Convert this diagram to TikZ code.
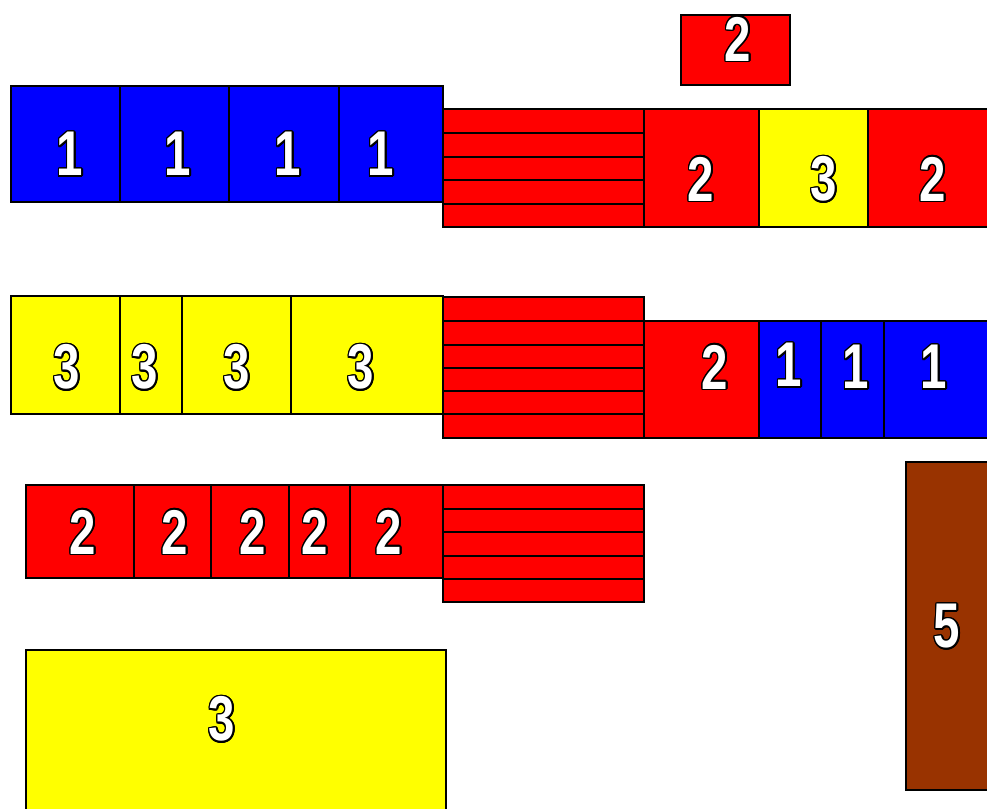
\documentclass[tikz,border=0pt]{standalone}
\usepackage{fontspec}
\usepackage{contour}
\newfontfamily\numfont[FakeStretch=0.75]{Liberation Sans}
\contourlength{0.9pt}
\definecolor{brick}{HTML}{993300}
\definecolor{cred}{HTML}{FF0000}
\definecolor{cblue}{HTML}{0000FF}
\definecolor{cyellow}{HTML}{FFFF00}

\begin{document}
\begin{tikzpicture}[x=0.02cm,y=-0.02cm,line width=0.8pt,
  c/.style={draw=black,fill=#1},
  n/.style={text=white,inner sep=0pt,font=\numfont\bfseries\fontsize{36}{36}\selectfont}]
  \clip (0,0) rectangle (987,808);
  % first row
  \foreach \a/\b in {11/120,120/229,229/339,339/443} \draw[c=cblue] (\a,86) rectangle (\b,202);
  \draw[c=cred] (443,109) rectangle (644,227);
  \foreach \y in {133,157,180,204} \draw (443,\y) -- (644,\y);
  \draw[c=cred] (644,109) rectangle (759,227);
  \draw[c=cyellow] (759,109) rectangle (868,227);
  \draw[c=cred] (868,109) rectangle (992,227);
  \draw[c=cred] (681,15) rectangle (790,85);
  \node[n] (a1) at (70,155) {\contour{black}{1}};
  \node[n] (a2) at (178,155) {\contour{black}{1}};
  \node[n] (a3) at (288,155) {\contour{black}{1}};
  \node[n] (a4) at (381,155) {\contour{black}{1}};
  \node[n] (a5) at (701,180) {\contour{black}{2}};
  \node[n] (a6) at (824,180) {\contour{black}{3}};
  \node[n] (a7) at (933,180) {\contour{black}{2}};
  \node[n] (top) at (738,40) {\contour{black}{2}};
  % second row
  \foreach \a/\b in {11/120,120/182,182/291,291/443} \draw[c=cyellow] (\a,296) rectangle (\b,414);
  \draw[c=cred] (443,297) rectangle (644,438);
  \foreach \y in {321,345,368,391,414} \draw (443,\y) -- (644,\y);
  \draw[c=cred] (644,321) rectangle (759,438);
  \foreach \a/\b in {759/821,821/884,884/992} \draw[c=cblue] (\a,321) rectangle (\b,438);
  \node[n] (b1) at (67,368) {\contour{black}{3}};
  \node[n] (b2) at (145,368) {\contour{black}{3}};
  \node[n] (b3) at (237,368) {\contour{black}{3}};
  \node[n] (b4) at (361,368) {\contour{black}{3}};
  \node[n] (b5) at (715,368) {\contour{black}{2}};
  \node[n] (b6) at (789,366) {\contour{black}{1}};
  \node[n] (b7) at (856,368) {\contour{black}{1}};
  \node[n] (b8) at (934,368) {\contour{black}{1}};
  % third row
  \foreach \a/\b in {26/134,134/211,211/289,289/350,350/443} \draw[c=cred] (\a,485) rectangle (\b,578);
  \draw[c=cred] (443,485) rectangle (644,602);
  \foreach \y in {509,532,556,579} \draw (443,\y) -- (644,\y);
  \node[n] (d1) at (83,533) {\contour{black}{2}};
  \node[n] (d2) at (175,533) {\contour{black}{2}};
  \node[n] (d3) at (253,533) {\contour{black}{2}};
  \node[n] (d4) at (315,533) {\contour{black}{2}};
  \node[n] (d5) at (389,533) {\contour{black}{2}};
  % bottom blocks
  \draw[c=cyellow] (26,650) rectangle (446,815);
  \node[n] (big) at (222,720) {\contour{black}{3}};
  \draw[c=brick] (906,462) rectangle (992,790);
  \node[n] (five) at (947,627) {\contour{black}{5}};
\end{tikzpicture}
\end{document}
